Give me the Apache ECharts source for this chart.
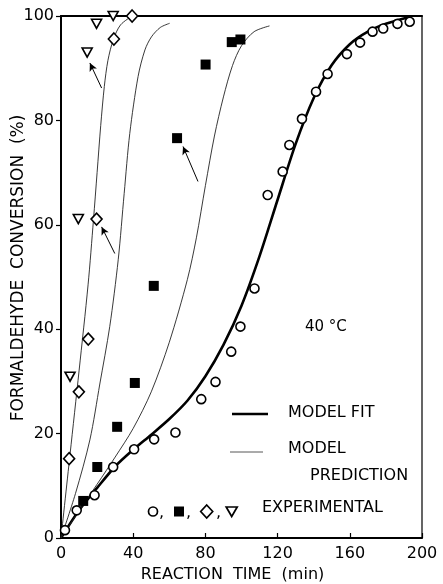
<!DOCTYPE html>
<html>
<head>
<meta charset="utf-8">
<script src="https://cdn.jsdelivr.net/npm/echarts@6/dist/echarts.min.js"></script>
<style>
html,body{margin:0;padding:0;background:#fff;}
#c{width:443px;height:584px;}
</style>
</head>
<body>
<div id="c"></div>
<script>
// ---- data (time in min, conversion in %) ----
const xTicks = [0, 40, 80, 120, 160, 200];
const yTicks = [0, 20, 40, 60, 80, 100];

const expCircles = [[2.2,1.5],[8.7,5.3],[18.6,8.2],[28.9,13.6],[40.5,17.0],[51.6,18.9],[63.4,20.2],[77.7,26.6],[85.6,29.9],[94.3,35.7],[99.4,40.5],[107.2,47.8],[114.5,65.7],[122.8,70.2],[126.5,75.3],[133.5,80.3],[141.3,85.5],[147.7,88.9],[158.4,92.7],[165.7,94.9],[172.6,97.0],[178.5,97.6],[186.4,98.5],[193.2,98.9]];
const expSquares = [[12.3,7.1],[20.1,13.6],[31.1,21.3],[40.9,29.7],[51.4,48.3],[64.3,76.6],[80.1,90.7],[94.6,95.0],[99.4,95.5]];
const expDiamonds = [[4.5,15.2],[9.9,28.0],[15.1,38.1],[19.7,61.1],[29.3,95.6],[39.4,100]];
const expTriangles = [[5.0,30.9],[9.6,61.1],[14.5,93.0],[19.7,98.5],[28.9,100]];

const modelFit = [[0,0],[10,5.3],[20,9.6],[30,13.7],[40,16.9],[50,19.8],[60,22.8],[70,26.3],[80,31.0],[90,37.0],[100,44.5],[110,54.0],[120,64.8],[130,75.5],[140,84.3],[150,90.6],[160,94.6],[170,97.0],[180,98.5],[193,99.8]];
const predTriangles = [[0,0],[5,16],[10,32],[15,48.5],[18,61],[20,70],[22,79],[24,86.5],[26,91.5],[29,95.5],[33,98.3],[39.4,100]];
const predDiamonds = [[0,0],[8,8.5],[16,18.8],[21.5,29.5],[27,40.5],[31.7,53.3],[35,66],[38.1,77.5],[42.7,88.4],[46.5,93.5],[50.1,96],[55,97.8],[60.2,98.6]];
const predSquares = [[0,0],[10,5.2],[20,10.3],[30,15.5],[40,21],[50,28],[60,37.5],[70,49.5],[75,57.5],[80,67.5],[85,77],[90,84.5],[95,90.5],[100,94.3],[107,97],[115.5,98.1]];

// annotation arrows [head, tail]
const arrowTri = [[16.0,91.0],[22.5,86.2]];
const arrowDia = [[22.5,59.6],[29.8,54.5]];
const arrowSq = [[67.6,75.0],[75.9,68.3]];

const FONT = 'DejaVu Sans';
const chart = echarts.init(document.getElementById('c'), null, {renderer:'canvas'});

function arrowLine(pair){
  return {
    silent:true, symbol:['arrow','none'], symbolSize:[6,8],
    lineStyle:{color:'#000', width:1, type:'solid'}, label:{show:false},
    data:[[{coord:pair[0]},{coord:pair[1]}]]
  };
}

function curve(data, width, color, arrow){
  const s = {type:'line', data:data, smooth:0.3, showSymbol:false,
    lineStyle:{color:color, width:width}, z:2};
  if (arrow) s.markLine = arrowLine(arrow);
  return s;
}

const option = {
  animation:false,
  backgroundColor:'#fff',
  grid:{left:61, right:21, top:16, bottom:46, containLabel:false, outerBoundsMode:'none',
    show:true, borderColor:'#000', borderWidth:1.2},
  xAxis:[{
    type:'value', min:0, max:200, interval:40,
    axisLine:{show:true, lineStyle:{color:'#000', width:2}},
    axisTick:{show:true, inside:true, length:5, lineStyle:{color:'#000', width:1.2}},
    axisLabel:{color:'#000', fontFamily:FONT, fontSize:16, margin:8,
      formatter:v=> xTicks.includes(v) ? String(v) : ''},
    splitLine:{show:false},
    name:'REACTION  TIME  (min)', nameLocation:'middle', nameGap:29, nameMoveOverlap:false,
    nameTextStyle:{color:'#000', fontFamily:FONT, fontSize:16, padding:[0,18,0,0]}
  },{
    type:'value', position:'top', min:0, max:200,
    axisLine:{show:true, lineStyle:{color:'#000', width:2}},
    axisTick:{show:false}, axisLabel:{show:false}, splitLine:{show:false}
  }],
  yAxis:{
    type:'value', min:0, max:100, interval:20,
    axisLine:{show:true, lineStyle:{color:'#000', width:2}},
    axisTick:{show:true, inside:false, length:5, lineStyle:{color:'#000', width:1.2}},
    axisLabel:{color:'#000', fontFamily:FONT, fontSize:16, margin:7,
      formatter:v=> yTicks.includes(v) ? String(v) : ''},
    splitLine:{show:false},
    name:'FORMALDEHYDE  CONVERSION  (%)', nameLocation:'middle', nameGap:34, nameRotate:90,
    nameMoveOverlap:false,
    nameTextStyle:{color:'#000', fontFamily:FONT, fontSize:17, padding:[0,0,0,18]}
  },
  series:[
    curve(modelFit, 2.6, '#000'),
    curve(predTriangles, 0.9, '#222', arrowTri),
    curve(predDiamonds, 0.9, '#222', arrowDia),
    curve(predSquares, 0.9, '#222', arrowSq),
    {type:'scatter', data:expCircles, symbol:'circle', symbolSize:9,
      itemStyle:{color:'#fff', borderColor:'#000', borderWidth:1.6, opacity:1}, z:5},
    {type:'scatter', data:expSquares, symbol:'rect', symbolSize:10,
      itemStyle:{color:'#000', opacity:1}, z:5},
    {type:'scatter', data:expDiamonds, symbol:'diamond', symbolSize:[11,12],
      itemStyle:{color:'#fff', borderColor:'#000', borderWidth:1.6, opacity:1}, z:5},
    {type:'scatter', data:expTriangles, symbol:'triangle', symbolRotate:180, symbolSize:[10,9],
      itemStyle:{color:'#fff', borderColor:'#000', borderWidth:1.6, opacity:1}, z:5}
  ],
  graphic:[
    {type:'text', left:305, top:320, style:{text:'40 °C', font:'15px "DejaVu Sans"', fill:'#000'}},
    {type:'line', shape:{x1:232,y1:414,x2:268,y2:414}, style:{stroke:'#000', lineWidth:2.6}},
    {type:'text', left:288, top:405, style:{text:'MODEL FIT', font:'16px "DejaVu Sans"', fill:'#000'}},
    {type:'line', shape:{x1:230,y1:452,x2:263,y2:452}, style:{stroke:'#444', lineWidth:0.9}},
    {type:'text', left:288, top:441, style:{text:'MODEL', font:'16px "DejaVu Sans"', fill:'#000'}},
    {type:'text', left:310, top:468, style:{text:'PREDICTION', font:'16px "DejaVu Sans"', fill:'#000'}},
    {type:'circle', shape:{cx:153, cy:511.5, r:4.5}, style:{fill:'#fff', stroke:'#000', lineWidth:1.7}},
    {type:'text', left:159, top:505, style:{text:',', font:'16px "DejaVu Sans"', fill:'#000'}},
    {type:'rect', shape:{x:174, y:506.5, width:10, height:10}, style:{fill:'#000'}},
    {type:'text', left:186, top:505, style:{text:',', font:'16px "DejaVu Sans"', fill:'#000'}},
    {type:'polygon', shape:{points:[[206.7,505],[212.7,511.5],[206.7,518],[200.7,511.5]]}, style:{fill:'#fff', stroke:'#000', lineWidth:1.7}},
    {type:'text', left:216, top:505, style:{text:',', font:'16px "DejaVu Sans"', fill:'#000'}},
    {type:'polygon', shape:{points:[[226.2,507],[237.2,507],[231.7,516.5]]}, style:{fill:'#fff', stroke:'#000', lineWidth:1.7}},
    {type:'text', left:262, top:500, style:{text:'EXPERIMENTAL', font:'16px "DejaVu Sans"', fill:'#000'}}
  ]
};
chart.setOption(option);
</script>
</body>
</html>
